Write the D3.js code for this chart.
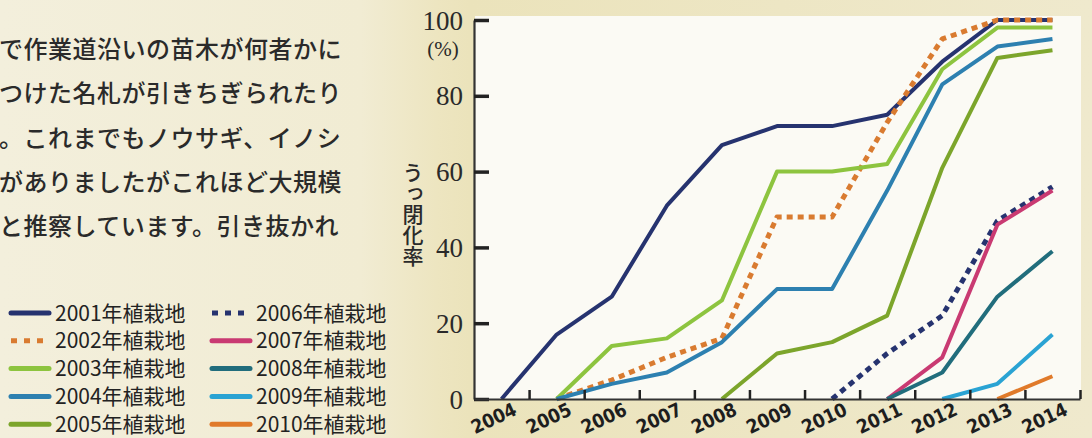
<!DOCTYPE html>
<html>
<head>
<meta charset="utf-8">
<script src="https://cdn.jsdelivr.net/npm/d3@7"></script>
<style>
  body { margin: 0; background: #f1ecd3; }
  svg { display: block; }
</style>
</head>
<body>
<div class="chart"></div>
<script>
// article text beside the chart
var bodyLines = [
  "で作業道沿いの苗木が何者かに",
  "つけた名札が引きちぎられたり",
  "。これまでもノウサギ、イノシ",
  "がありましたがこれほど大規模",
  "と推察しています。引き抜かれ"
];

var years = [2004, 2005, 2006, 2007, 2008, 2009, 2010, 2011, 2012, 2013, 2014];
var yTicks = [0, 20, 40, 60, 80, 100];

// canopy closure (%) per planting year, null = not yet planted
var s2001 = [0, 17, 27, 51, 67, 72, 72, 75, 89, 100, 100];
var s2002 = [null, 0, 5, 11, 16, 48, 48, 73, 95, 100, 100];
var s2003 = [null, 0, 14, 16, 26, 60, 60, 62, 87, 98, 98];
var s2004 = [null, 0, 4, 7, 15, 29, 29, 55, 83, 93, 95];
var s2005 = [null, null, null, null, 0, 12, 15, 22, 61, 90, 92];
var s2006 = [null, null, null, null, null, null, 0, 12, 22, 47, 56];
var s2007 = [null, null, null, null, null, null, null, 0, 11, 46, 55];
var s2008 = [null, null, null, null, null, null, null, 0, 7, 27, 39];
var s2009 = [null, null, null, null, null, null, null, null, 0, 4, 17];
var s2010 = [null, null, null, null, null, null, null, null, null, 0, 6];

var seriesNames = ["2001年植栽地", "2002年植栽地", "2003年植栽地", "2004年植栽地", "2005年植栽地",
  "2006年植栽地", "2007年植栽地", "2008年植栽地", "2009年植栽地", "2010年植栽地"];
var seriesValues = [s2001, s2002, s2003, s2004, s2005, s2006, s2007, s2008, s2009, s2010];
var seriesColors = ["#26336f", "#d97b30", "#8dc43f", "#2d80b0", "#7ca52b",
  "#26336f", "#c93a72", "#216d7c", "#2aa3d3", "#e07a2a"];
var seriesDotted = [false, true, false, false, false, true, false, false, false, false];

var svgWidth = 1092;
var svgHeight = 438;

var svg = d3.select(".chart")
  .append("svg")
  .attr("width", svgWidth)
  .attr("height", svgHeight);

// scanned paper background, slightly darker towards the fold
var defs = svg.append("defs");
var grad = defs.append("linearGradient").attr("id", "paper");
grad.append("stop").attr("offset", "0").attr("stop-color", "#f3efdc");
grad.append("stop").attr("offset", "0.33").attr("stop-color", "#f1ecd3");
grad.append("stop").attr("offset", "0.40").attr("stop-color", "#ede5c0");
grad.append("stop").attr("offset", "0.43").attr("stop-color", "#ebe3bb");
grad.append("stop").attr("offset", "1").attr("stop-color", "#efe9cd");
svg.append("rect")
  .attr("width", svgWidth)
  .attr("height", svgHeight)
  .attr("fill", "url(#paper)");

// body text
svg.append("g")
  .selectAll("text")
  .data(bodyLines)
  .enter().append("text")
    .attr("x", -1)
    .attr("y", function(d, i) { return 58 + i * 44.3; })
    .attr("font-family", "Noto Sans CJK JP")
    .attr("font-weight", 500)
    .attr("font-size", 24)
    .attr("letter-spacing", 0.5)
    .attr("fill", "#2a2a2a")
    .text(function(d) { return d; });

// plot area
var plotLeft = 474, plotRight = 1080, plotTop = 20, plotBottom = 399;

svg.append("rect")
  .attr("x", plotLeft + 1)
  .attr("y", 16)
  .attr("width", plotRight - plotLeft)
  .attr("height", plotBottom - 16)
  .attr("fill", "#fbfaf4");

var xScale = d3.scaleLinear()
  .domain([2003.5, 2014.5])
  .range([plotLeft, plotRight]);

var yScale = d3.scaleLinear()
  .domain([0, 100])
  .range([plotBottom, plotTop]);

var chart = svg.append("g");

var line = d3.line()
  .defined(function(d) { return d.v !== null; })
  .x(function(d) { return xScale(d.year); })
  .y(function(d) { return yScale(d.v); });

seriesValues.forEach(function(vals, i) {
  var pts = years.map(function(y, j) { return { year: y, v: vals[j] }; });
  chart.append("path")
    .datum(pts)
    .attr("fill", "none")
    .attr("stroke", seriesColors[i])
    .attr("stroke-width", seriesDotted[i] ? 5 : 4)
    .attr("stroke-linejoin", "round")
    .attr("stroke-dasharray", seriesDotted[i] ? "6,5" : null)
    .attr("d", line);
});

// y axis
var leftAxis = d3.axisLeft(yScale)
  .tickValues(yTicks)
  .tickSizeInner(-15)
  .tickSizeOuter(0)
  .tickPadding(11);

var yAxisG = svg.append("g")
  .attr("transform", "translate(" + plotLeft + ",0)")
  .call(leftAxis);
yAxisG.select(".domain").attr("stroke", "#333").attr("stroke-width", 2.2);
yAxisG.selectAll(".tick line").attr("stroke", "#222").attr("stroke-width", 3.5);
yAxisG.selectAll(".tick text")
  .attr("font-family", "Liberation Serif")
  .attr("font-size", 27)
  .attr("fill", "#2a2a2a")
  .attr("dy", "0.34em");

svg.append("text")
  .attr("x", 443)
  .attr("y", 56)
  .attr("text-anchor", "middle")
  .attr("font-family", "Liberation Serif")
  .attr("font-size", 21)
  .attr("fill", "#2a2a2a")
  .text("(%)");

svg.append("text")
  .attr("x", 413)
  .attr("y", 162)
  .attr("font-family", "Noto Sans CJK JP")
  .attr("font-weight", 500)
  .attr("font-size", 21)
  .attr("fill", "#2a2a2a")
  .style("writing-mode", "vertical-rl")
  .text("うっ閉化率");

// x axis: ticks between years, labels under each year
var xTicks = years.map(function(y) { return y + 0.5; });
var bottomAxis = d3.axisBottom(xScale)
  .tickValues(xTicks)
  .tickSizeInner(-9)
  .tickSizeOuter(0)
  .tickFormat("");

var xAxisG = svg.append("g")
  .attr("transform", "translate(0," + plotBottom + ")")
  .call(bottomAxis);
xAxisG.select(".domain").attr("stroke", "#333").attr("stroke-width", 2.2);
xAxisG.selectAll(".tick line").attr("stroke", "#222").attr("stroke-width", 2.5);

svg.append("g")
  .selectAll("text")
  .data(years)
  .enter().append("text")
    .attr("transform", function(d) {
      return "translate(" + (xScale(d) - 8) + "," + 418 + ") rotate(-25)";
    })
    .attr("text-anchor", "middle")
    .attr("dy", "0.36em")
    .attr("font-family", "DejaVu Sans Condensed")
    .attr("font-weight", "bold")
    .attr("font-size", 19)
    .attr("fill", "#1e1e1e")
    .text(function(d) { return d; });

// legend, two columns of five
var legend = svg.append("g");
seriesNames.forEach(function(name, i) {
  var col = Math.floor(i / 5), row = i % 5;
  var lx = col === 0 ? 11 : 212;
  var ly = 313 + row * 27.8;
  legend.append("line")
    .attr("x1", lx)
    .attr("x2", lx + 38)
    .attr("y1", ly)
    .attr("y2", ly)
    .attr("stroke", seriesColors[i])
    .attr("stroke-width", 5)
    .attr("stroke-linecap", seriesDotted[i] ? "butt" : "round")
    .attr("stroke-dasharray", seriesDotted[i] ? "6,7" : null);
  legend.append("text")
    .attr("x", lx + 44)
    .attr("y", ly + 7.5)
    .attr("font-family", "Noto Sans CJK JP")
    .attr("font-size", 21)
    .attr("fill", "#222")
    .text(name);
});
</script>
</body>
</html>
